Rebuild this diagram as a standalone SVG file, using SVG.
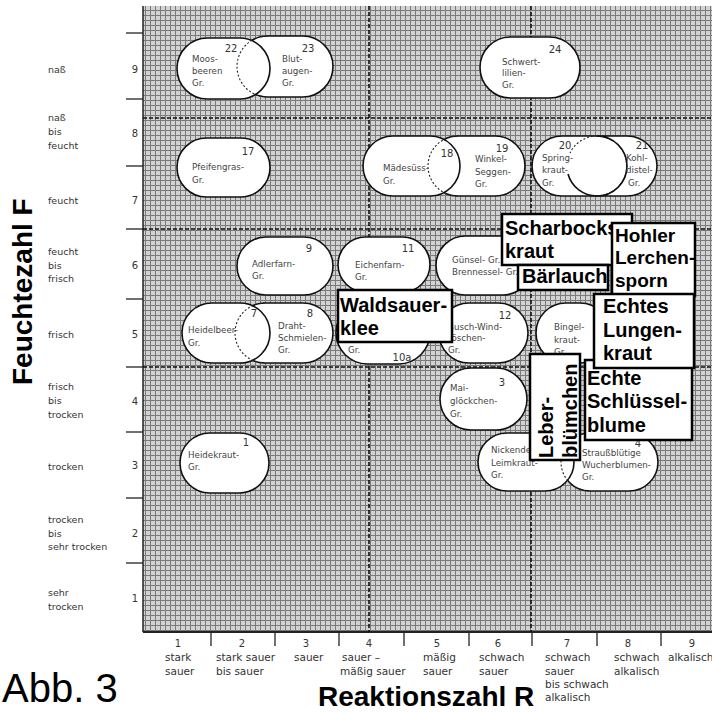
<svg xmlns="http://www.w3.org/2000/svg" width="712" height="713" viewBox="0 0 712 713">
<defs>
<pattern id="grid" patternUnits="userSpaceOnUse" x="0" y="0" width="5" height="5">
<rect width="5" height="5" fill="#d2d2d2"/>
<rect x="0" y="0" width="1" height="5" fill="#7a7a7a"/>
<rect x="0" y="0" width="5" height="1" fill="#7a7a7a"/>
</pattern>
</defs>
<style>
.yl{font-family:"DejaVu Sans",sans-serif;font-size:9.5px;fill:#333}
.xl{font-family:"DejaVu Sans",sans-serif;font-size:10.5px;fill:#333}
.sl{font-family:"DejaVu Sans",sans-serif;font-size:8.7px;fill:#444}
.num{font-family:"DejaVu Sans",sans-serif;font-size:10px;fill:#333;text-anchor:middle}
.st{fill:#fff;stroke:#111;stroke-width:1.6}
.ln{fill:none;stroke:#111;stroke-width:1.6}
.hid{fill:none;stroke:#222;stroke-width:1.1;stroke-dasharray:2 2}
.gd{stroke:#111;stroke-width:1.6;stroke-dasharray:4 2;fill:none}
.box{fill:#fff;stroke:#000;stroke-width:2.5}
.bt{font-family:"Liberation Sans",Arial,sans-serif;font-weight:bold;font-size:20px;fill:#000}
.tick{stroke:#222;stroke-width:1.3}
.title{font-family:"Liberation Sans",Arial,sans-serif;font-weight:bold;fill:#000}
</style>
<rect width="712" height="713" fill="#fff"/>

<g id="plot">
<rect x="143" y="6" width="569" height="626" fill="url(#grid)"/>
<line x1="143" y1="6" x2="143" y2="632" stroke="#222" stroke-width="1.5"/>
<line x1="143" y1="632" x2="712" y2="632" stroke="#222" stroke-width="2"/>
<g id="dividers">
<line class="gd" x1="143" y1="118" x2="712" y2="118"/>
<line class="gd" x1="143" y1="229" x2="712" y2="229"/>
<line class="gd" x1="143" y1="367" x2="712" y2="367"/>
<line class="gd" x1="369" y1="6" x2="369" y2="632"/>
<line class="gd" x1="531" y1="6" x2="531" y2="632"/>
</g>
<g id="ticks">
<line class="tick" x1="126" y1="33" x2="143" y2="33"/>
<line class="tick" x1="126" y1="99" x2="143" y2="99"/>
<line class="tick" x1="126" y1="166" x2="143" y2="166"/>
<line class="tick" x1="126" y1="229" x2="143" y2="229"/>
<line class="tick" x1="126" y1="299" x2="143" y2="299"/>
<line class="tick" x1="126" y1="367" x2="143" y2="367"/>
<line class="tick" x1="126" y1="432" x2="143" y2="432"/>
<line class="tick" x1="126" y1="498" x2="143" y2="498"/>
<line class="tick" x1="126" y1="563" x2="143" y2="563"/>
<line class="tick" x1="211" y1="632" x2="211" y2="646"/>
<line class="tick" x1="275" y1="632" x2="275" y2="646"/>
<line class="tick" x1="339" y1="632" x2="339" y2="646"/>
<line class="tick" x1="404" y1="632" x2="404" y2="646"/>
<line class="tick" x1="469" y1="632" x2="469" y2="646"/>
<line class="tick" x1="532" y1="632" x2="532" y2="646"/>
<line class="tick" x1="597" y1="632" x2="597" y2="646"/>
<line class="tick" x1="661" y1="632" x2="661" y2="646"/>
</g>
</g>

<g id="y-axis-labels">
<text class="yl" x="48" y="73">naß</text>
<text class="yl" x="48" y="121">naß</text><text class="yl" x="48" y="135">bis</text><text class="yl" x="48" y="149">feucht</text>
<text class="yl" x="48" y="204">feucht</text>
<text class="yl" x="48" y="255">feucht</text><text class="yl" x="48" y="269">bis</text><text class="yl" x="48" y="282">frisch</text>
<text class="yl" x="48" y="338">frisch</text>
<text class="yl" x="48" y="390">frisch</text><text class="yl" x="48" y="404">bis</text><text class="yl" x="48" y="418">trocken</text>
<text class="yl" x="48" y="470">trocken</text>
<text class="yl" x="48" y="523">trocken</text><text class="yl" x="48" y="537">bis</text><text class="yl" x="48" y="550">sehr trocken</text>
<text class="yl" x="48" y="596">sehr</text><text class="yl" x="48" y="610">trocken</text>
<text class="num" x="135" y="73">9</text>
<text class="num" x="135" y="137">8</text>
<text class="num" x="135" y="204">7</text>
<text class="num" x="135" y="269">6</text>
<text class="num" x="135" y="338">5</text>
<text class="num" x="135" y="405">4</text>
<text class="num" x="135" y="469">3</text>
<text class="num" x="135" y="537">2</text>
<text class="num" x="135" y="602">1</text>
</g>

<g id="x-axis-labels">
<text class="num" x="178" y="647">1</text>
<text class="xl" x="165" y="661">stark</text><text class="xl" x="165" y="675">sauer</text>
<text class="num" x="242" y="647">2</text>
<text class="xl" x="216" y="661">stark sauer</text><text class="xl" x="216" y="675">bis sauer</text>
<text class="num" x="306" y="647">3</text>
<text class="xl" x="294" y="661">sauer</text>
<text class="num" x="369" y="647">4</text>
<text class="xl" x="342" y="661">sauer –</text><text class="xl" x="340" y="675">mäßig sauer</text>
<text class="num" x="437" y="647">5</text>
<text class="xl" x="423" y="661">mäßig</text><text class="xl" x="423" y="675">sauer</text>
<text class="num" x="498" y="647">6</text>
<text class="xl" x="479" y="661">schwach</text><text class="xl" x="479" y="675">sauer</text>
<text class="num" x="567" y="647">7</text>
<text class="xl" x="545" y="661">schwach</text><text class="xl" x="545" y="675">sauer</text><text class="xl" x="545" y="688">bis schwach</text><text class="xl" x="545" y="701">alkalisch</text>
<text class="num" x="628" y="647">8</text>
<text class="xl" x="614" y="661">schwach</text><text class="xl" x="614" y="675">alkalisch</text>
<text class="num" x="692" y="647">9</text>
<text class="xl" x="668" y="661">alkalisch</text>
</g>

<g id="titles">
<text class="title" font-size="28" transform="translate(32,385) rotate(-90)">Feuchtezahl F</text>
<text class="title" font-size="28" x="318" y="706">Reaktionszahl R</text>
<text font-family="Liberation Sans, Arial, sans-serif" font-size="40" fill="#000" x="2" y="702">Abb. 3</text>
</g>

<g id="n23"><rect class="st" x="237" y="36" width="96" height="61" rx="30.5"/>
<text class="num" x="308" y="52">23</text><text class="sl" x="282" y="62">Blut-</text><text class="sl" x="282" y="74">augen-</text><text class="sl" x="282" y="86">Gr.</text></g>
<g id="n22"><rect class="st" x="177" y="38" width="93" height="61" rx="30.5"/>
<text class="num" x="231" y="52">22</text><text class="sl" x="192" y="62">Moos-</text><text class="sl" x="192" y="74">beeren</text><text class="sl" x="192" y="86">Gr.</text></g>
<path class="hid" d="M267.5,36 A30.5,30.5 0 0 0 267.5,97"/>

<g id="n24"><rect class="st" x="480" y="37" width="100" height="61" rx="30.5"/>
<text class="num" x="555" y="53">24</text><text class="sl" x="502" y="65">Schwert-</text><text class="sl" x="502" y="76">lilien-</text><text class="sl" x="502" y="88">Gr.</text></g>

<g id="n17"><rect class="st" x="177" y="138" width="93" height="59" rx="29.5"/>
<text class="num" x="248" y="155">17</text><text class="sl" x="192" y="170">Pfeifengras-</text><text class="sl" x="192" y="183">Gr.</text></g>

<g id="n19"><rect class="st" x="428" y="136" width="97" height="60" rx="30"/>
<text class="num" x="502" y="152">19</text><text class="sl" x="475" y="162">Winkel-</text><text class="sl" x="475" y="175">Seggen-</text><text class="sl" x="475" y="187">Gr.</text></g>
<g id="n18"><rect class="st" x="363" y="136" width="97" height="60" rx="30"/>
<text class="num" x="447" y="157">18</text><text class="sl" x="383" y="171">Mädesüss-</text><text class="sl" x="383" y="184">Gr.</text></g>
<path class="hid" d="M458,136 A30,30 0 0 0 458,196"/>

<g id="n20"><rect class="st" x="532" y="136" width="95" height="60" rx="30"/>
<text class="num" x="565" y="149">20</text><text class="sl" x="542" y="161">Spring-</text><text class="sl" x="542" y="173">kraut-</text><text class="sl" x="542" y="186">Gr.</text></g>
<g id="n21">
<path class="st" d="M597,136 L627,136 A30,30 0 0 1 627,196 L597,196 A30,30 0 0 0 597,136 Z"/>
<path class="hid" d="M597,136 A30,30 0 0 0 570,153"/>
<path class="ln" d="M568,174 A30,30 0 0 0 597,196"/>
<text class="num" x="642" y="149">21</text><text class="sl" x="626" y="161">Kohl-</text><text class="sl" x="626" y="173">distel-</text><text class="sl" x="628" y="186">Gr.</text></g>

<g id="n9"><rect class="st" x="237" y="237" width="96" height="58" rx="29"/>
<text class="num" x="309" y="252">9</text><text class="sl" x="252" y="267">Adlerfarn-</text><text class="sl" x="252" y="279">Gr.</text></g>

<g id="n11"><rect class="st" x="338" y="237" width="92" height="55" rx="27.5"/>
<text class="num" x="408" y="252">11</text><text class="sl" x="355" y="268">Eichenfarn-</text><text class="sl" x="355" y="280">Gr.</text></g>

<g id="n13"><rect class="st" x="436" y="236" width="96" height="59" rx="29.5"/>
<text class="sl" x="452" y="263">Günsel- Gr.</text><text class="sl" x="452" y="275">Brennessel- Gr.</text></g>

<g id="n8"><rect class="st" x="235" y="303" width="98" height="60" rx="30"/>
<text class="num" x="310" y="317">8</text><text class="sl" x="278" y="329">Draht-</text><text class="sl" x="278" y="341">Schmielen-</text><text class="sl" x="278" y="353">Gr.</text></g>
<g id="n7"><rect class="st" x="182" y="303" width="88" height="60" rx="30"/>
<text class="num" x="254" y="317">7</text><text class="sl" x="188" y="333">Heidelbeer-</text><text class="sl" x="188" y="346">Gr.</text></g>
<path class="hid" d="M265,303 A30,30 0 0 0 265,363"/>

<g id="n10a"><rect class="st" x="336" y="301" width="94" height="63" rx="31.5"/>
<text class="sl" x="348" y="353">Gr.</text><text class="num" x="402" y="361">10a</text></g>

<g id="n12"><rect class="st" x="439" y="303" width="89" height="60" rx="30"/>
<text class="num" x="505" y="319">12</text><text class="sl" x="448" y="330">Busch-Wind-</text><text class="sl" x="448" y="341">röschen-</text><text class="sl" x="448" y="353">Gr.</text></g>

<g id="n14"><rect class="st" x="536" y="303" width="74" height="60" rx="30"/>
<text class="sl" x="554" y="330">Bingel-</text><text class="sl" x="554" y="343">kraut-</text><text class="sl" x="554" y="355">Gr.</text></g>

<g id="n3"><rect class="st" x="440" y="368" width="87" height="62" rx="31"/>
<text class="num" x="502" y="386">3</text><text class="sl" x="450" y="391">Mai-</text><text class="sl" x="450" y="404">glöckchen-</text><text class="sl" x="450" y="417">Gr.</text></g>

<g id="n1"><rect class="st" x="180" y="433" width="89" height="60" rx="30"/>
<text class="num" x="246" y="446">1</text><text class="sl" x="188" y="458">Heidekraut-</text><text class="sl" x="188" y="470">Gr.</text></g>

<g id="n4"><rect class="st" x="561" y="433" width="97" height="58" rx="29"/>
<text class="num" x="638" y="447">4</text><text class="sl" x="582" y="456">Straußblütige</text><text class="sl" x="582" y="468">Wucherblumen-</text><text class="sl" x="582" y="480">Gr.</text></g>
<g id="n5"><rect class="st" x="478" y="433" width="96" height="58" rx="29"/>
<text class="sl" x="491" y="453">Nickendes</text><text class="sl" x="491" y="466">Leimkraut-</text><text class="sl" x="491" y="478">Gr.</text></g>
<path class="hid" d="M590,433 A29,29 0 0 0 590,491"/>

<g id="box-scharbockskraut"><rect class="box" x="502" y="214" width="130" height="51"/>
<text class="bt" x="505" y="235">Scharbocks</text><text class="bt" x="505" y="258">kraut</text></g>
<g id="box-baerlauch"><rect class="box" x="518" y="265" width="90" height="25"/>
<text class="bt" x="522" y="283">Bärlauch</text></g>
<g id="box-hohler-lerchensporn"><rect class="box" x="612" y="223" width="83" height="73"/>
<text class="bt" x="615" y="242" style="font-size:19px">Hohler</text><text class="bt" x="615" y="264" style="font-size:19px">Lerchen-</text><text class="bt" x="615" y="287" style="font-size:19px">sporn</text></g>
<g id="box-schluesselblume"><rect class="box" x="585" y="360" width="107" height="80"/>
<text class="bt" x="587" y="385">Echte</text><text class="bt" x="587" y="408">Schlüssel-</text><text class="bt" x="587" y="432">blume</text></g>
<g id="box-lungenkraut"><rect class="box" x="594" y="294" width="100" height="74"/>
<text class="bt" x="603" y="313">Echtes</text><text class="bt" x="603" y="337">Lungen-</text><text class="bt" x="603" y="360">kraut</text></g>
<g id="box-leberbluemchen"><rect class="box" x="530" y="354" width="50" height="106"/>
<text class="bt" transform="translate(553,458) rotate(-90)">Leber-</text><text class="bt" transform="translate(577,458) rotate(-90)">blümchen</text></g>
<g id="box-waldsauerklee"><rect class="box" x="338" y="290" width="114" height="52"/>
<text class="bt" x="340" y="312">Waldsauer-</text><text class="bt" x="340" y="335">klee</text></g>
</svg>
